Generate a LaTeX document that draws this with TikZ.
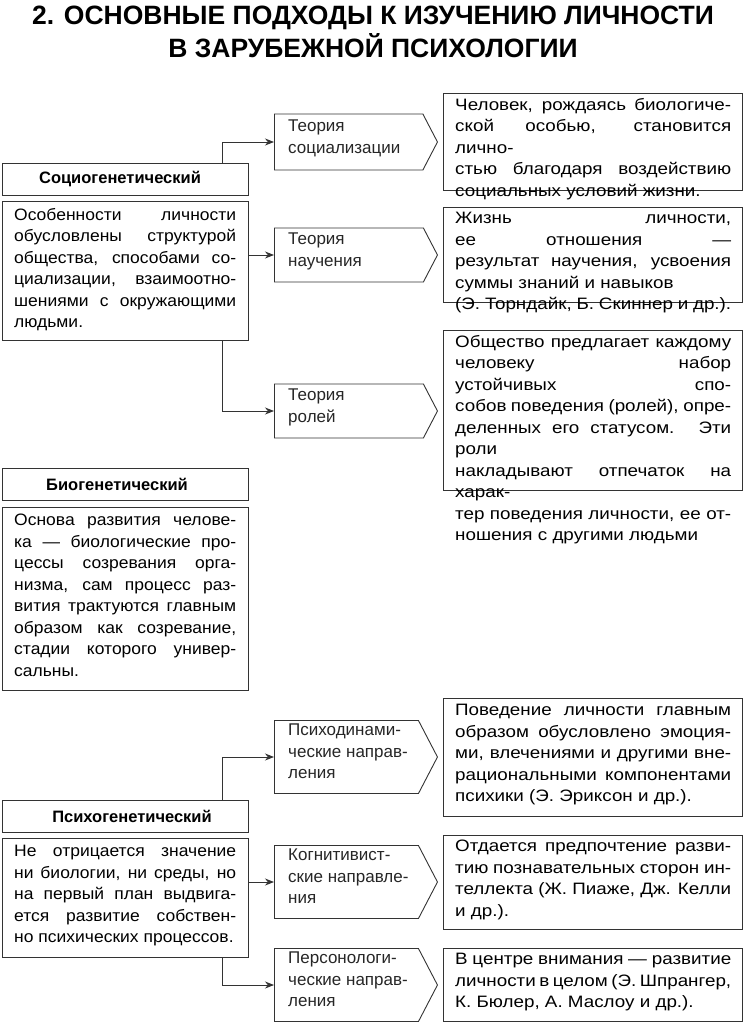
\documentclass[tikz,border=0pt]{standalone}
\usepackage{fontspec}
\setmainfont{Liberation Sans}
\newfontfamily\lwide[FakeStretch=1.06]{Liberation Sans}
\newfontfamily\rwide[FakeStretch=1.14]{Liberation Sans}
\usetikzlibrary{shapes.symbols,arrows.meta}
\newcommand\lb{\linebreak}
\begin{document}
\begin{tikzpicture}[x=1pt,y=-1pt,
  box/.style={draw=black!80,line width=0.9pt,inner sep=0pt},
  txt/.style={anchor=north west,align=justify,font=\lwide\fontsize{16.5}{21.5}\selectfont,inner sep=0pt,text width=222pt},
  rtxt/.style={anchor=north west,align=justify,font=\rwide\fontsize{16.5}{21.5}\selectfont,inner sep=0pt,text width=276pt},
  hdr/.style={font=\bfseries\fontsize{16.5}{17}\selectfont},
  th/.style={draw=black!80,line width=0.9pt,shape=signal,signal to=east,signal pointer angle=125,anchor=west,minimum width=163pt,inner sep=0pt},
  thtxt/.style={anchor=north west,align=left,font=\fontsize{17}{21.5}\selectfont,inner sep=0pt,text=black!85},
  arr/.style={draw=black!80,line width=0.9pt,-{Stealth[length=9pt,width=7pt]}}]
\useasboundingbox (0,0) rectangle (747,1024);
\node[font=\bfseries\fontsize{26.5}{33}\selectfont,align=center] (title) at (373,32) {2. ОСНОВНЫЕ ПОДХОДЫ К ИЗУЧЕНИЮ ЛИЧНОСТИ\\В ЗАРУБЕЖНОЙ ПСИХОЛОГИИ};
% left headers and boxes
\draw[box] (2,163) rectangle (248,195); \node[hdr] (h1) at (120,179) {Социогенетический};
\draw[box] (2,201) rectangle (248,340);
\node[txt] (t1) at (14,208) {Особенности личности\lb обусловлены структурой\lb общества, способами со-\lb циализации, взаимоотно-\lb шениями с окружающими\lb людьми.};
\draw[box] (2,468) rectangle (248,500); \node[hdr] (h2) at (117,484) {Биогенетический};
\draw[box] (2,507) rectangle (248,690);
\node[txt] (t2) at (14,514) {Основа развития челове-\lb ка — биологические про-\lb цессы созревания орга-\lb низма, сам процесс раз-\lb вития трактуются главным\lb образом как созревание,\lb стадии которого универ-\lb сальны.};
\draw[box] (2,800) rectangle (248,832); \node[hdr] (h3) at (132,816) {Психогенетический};
\draw[box] (2,838) rectangle (248,957);
\node[txt] (t3) at (14,845) {Не отрицается значение\lb ни биологии, ни среды, но\lb на первый план выдвига-\lb ется развитие собствен-\lb но психических процессов.};
% theory shapes
\node[th,minimum height=56pt] (a1) at (274,142) {};
\node[thtxt] at (288,120) {Теория\\социализации};
\node[th,minimum height=54pt] (a2) at (274,255) {};
\node[thtxt] at (288,233) {Теория\\научения};
\node[th,minimum height=54pt] (a3) at (274,411) {};
\node[thtxt] at (288,389) {Теория\\ролей};
\node[th,minimum height=73pt] (a4) at (274,757) {};
\node[thtxt] at (288,724) {Психодинами-\\ческие направ-\\ления};
\node[th,minimum height=73pt] (a5) at (274,882) {};
\node[thtxt] at (288,849) {Когнитивист-\\ские направле-\\ния};
\node[th,minimum height=73pt] (a6) at (274,985) {};
\node[thtxt] at (288,952) {Персонологи-\\ческие направ-\\ления};
% arrows
\coordinate (s1) at (222,163); \draw[arr] (s1) |- (a1.west);
\coordinate (s2) at (248,255); \draw[arr] (s2) -- (a2.west);
\coordinate (s3) at (222,340); \draw[arr] (s3) |- (a3.west);
\coordinate (s4) at (222,800); \draw[arr] (s4) |- (a4.west);
\coordinate (s5) at (248,882); \draw[arr] (s5) -- (a5.west);
\coordinate (s6) at (222,957); \draw[arr] (s6) |- (a6.west);
% right boxes
\draw[box] (443,93) rectangle (742,190);
\node[rtxt] (r1) at (455,98) {Человек, рождаясь биологиче-\lb ской особью, становится лично-\lb стью благодаря воздействию\lb социальных условий жизни.};
\draw[box] (443,207) rectangle (742,302);
\node[rtxt] (r2) at (455,212) {Жизнь личности, ее отношения —\lb результат научения, усвоения\lb суммы знаний и навыков\\(Э. Торндайк, Б. Скиннер и др.).};
\draw[box] (443,330) rectangle (742,490);
\node[rtxt] (r3) at (455,335) {Общество предлагает каждому\lb человеку набор устойчивых спо-\lb собов поведения (ролей), опре-\lb деленных его статусом. Эти роли\lb накладывают отпечаток на харак-\lb тер поведения личности, ее от-\lb ношения с другими людьми};
\draw[box] (443,698) rectangle (742,816);
\node[rtxt] (r4) at (455,704) {Поведение личности главным\lb образом обусловлено эмоция-\lb ми, влечениями и другими вне-\lb рациональными компонентами\lb психики (Э. Эриксон и др.).};
\draw[box] (443,835) rectangle (742,929);
\node[rtxt] (r5) at (455,840) {Отдается предпочтение разви-\lb тию познавательных сторон ин-\lb теллекта (Ж. Пиаже, Дж. Келли\lb и др.).};
\draw[box] (443,948) rectangle (742,1021);
\node[rtxt] (r6) at (455,953) {В центре внимания — развитие\lb личности в целом (Э. Шпрангер,\lb К. Бюлер, А. Маслоу и др.).};
\end{tikzpicture}
\end{document}
